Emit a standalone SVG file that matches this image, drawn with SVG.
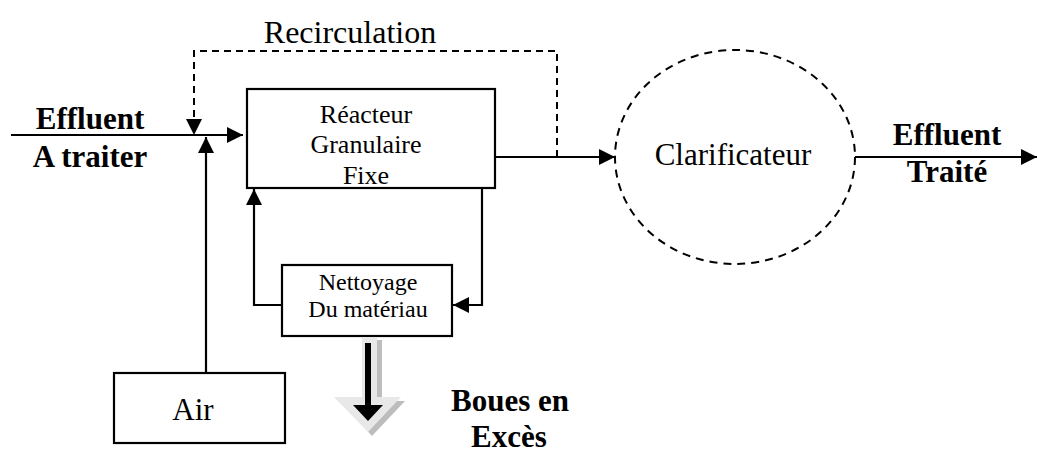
<svg xmlns="http://www.w3.org/2000/svg" width="1037" height="453" viewBox="0 0 1037 453">
<style>
.box{fill:#fff;stroke:#000;stroke-width:2.2}
.ln{fill:none;stroke:#000;stroke-width:2.2}
.dash{fill:none;stroke:#000;stroke-width:2;stroke-dasharray:7,5}
.t{font-family:"Liberation Serif","Times New Roman",serif;fill:#000;text-anchor:middle}
.b{font-weight:bold}
</style>
<defs>
<marker id="ah" markerUnits="userSpaceOnUse" markerWidth="17" markerHeight="17" refX="16" refY="8" orient="auto" viewBox="0 0 17 17">
<path d="M0,0 L16,8 L0,16 z" fill="#000" stroke="none"/>
</marker>
</defs>
<rect width="1037" height="453" fill="#fff"/>
<g id="connectors">
<path class="ln" d="M11,135 L243,135" marker-end="url(#ah)"/>
<path class="dash" d="M557,157 L557,51 L194,51 L194,135" marker-end="url(#ah)"/>
<path class="ln" d="M206,373 L206,137" marker-end="url(#ah)"/>
<path class="ln" d="M495,157 L615,157" marker-end="url(#ah)"/>
<path class="ln" d="M855,157 L1037,157" marker-end="url(#ah)"/>
<path class="ln" d="M482,188 L482,305 L453,305" marker-end="url(#ah)"/>
<path class="ln" d="M282,305 L254,305 L254,189" marker-end="url(#ah)"/>
<g id="sludge-arrow">
<polygon points="366,340 382,340 382,401 405,401 372,436 340,401 366,401" fill="#bdbdbd"/>
<polygon points="362,338 377,338 377,397 401,397 368,432 334,397 362,397" fill="#e8e8e8"/>
<line x1="368" y1="343" x2="368" y2="407" stroke="#000" stroke-width="6"/>
<polygon points="353,405 383,405 368,421" fill="#000"/>
</g>
</g>
<g id="label-recirculation"><text class="t" x="350" y="43" font-size="32">Recirculation</text></g>
<g id="label-effluent-in">
<text class="t b" x="90" y="129" font-size="31">Effluent</text>
<text class="t b" x="90" y="167" font-size="31">A traiter</text>
</g>
<g id="reacteur">
<rect class="box" x="247" y="89" width="248" height="99"/>
<text class="t" x="366" y="123" font-size="26">Réacteur</text>
<text class="t" x="366" y="153" font-size="26">Granulaire</text>
<text class="t" x="366" y="184" font-size="26">Fixe</text>
</g>
<g id="clarificateur">
<ellipse cx="735" cy="157" rx="120" ry="107" fill="none" stroke="#000" stroke-width="2" stroke-dasharray="8,6"/>
<text class="t" x="733" y="165" font-size="31">Clarificateur</text>
</g>
<g id="label-effluent-out">
<text class="t b" x="947" y="145" font-size="31">Effluent</text>
<text class="t b" x="947" y="182" font-size="31">Traité</text>
</g>
<g id="nettoyage">
<rect class="box" x="282" y="265" width="170" height="71"/>
<text class="t" x="368" y="290" font-size="24">Nettoyage</text>
<text class="t" x="368" y="317" font-size="24">Du matériau</text>
</g>
<g id="air">
<rect class="box" x="114" y="373" width="171" height="70"/>
<text class="t" x="193" y="420" font-size="31">Air</text>
</g>
<g id="label-boues">
<text class="t b" x="510" y="411" font-size="31">Boues en</text>
<text class="t b" x="509" y="447" font-size="31">Excès</text>
</g>
</svg>
